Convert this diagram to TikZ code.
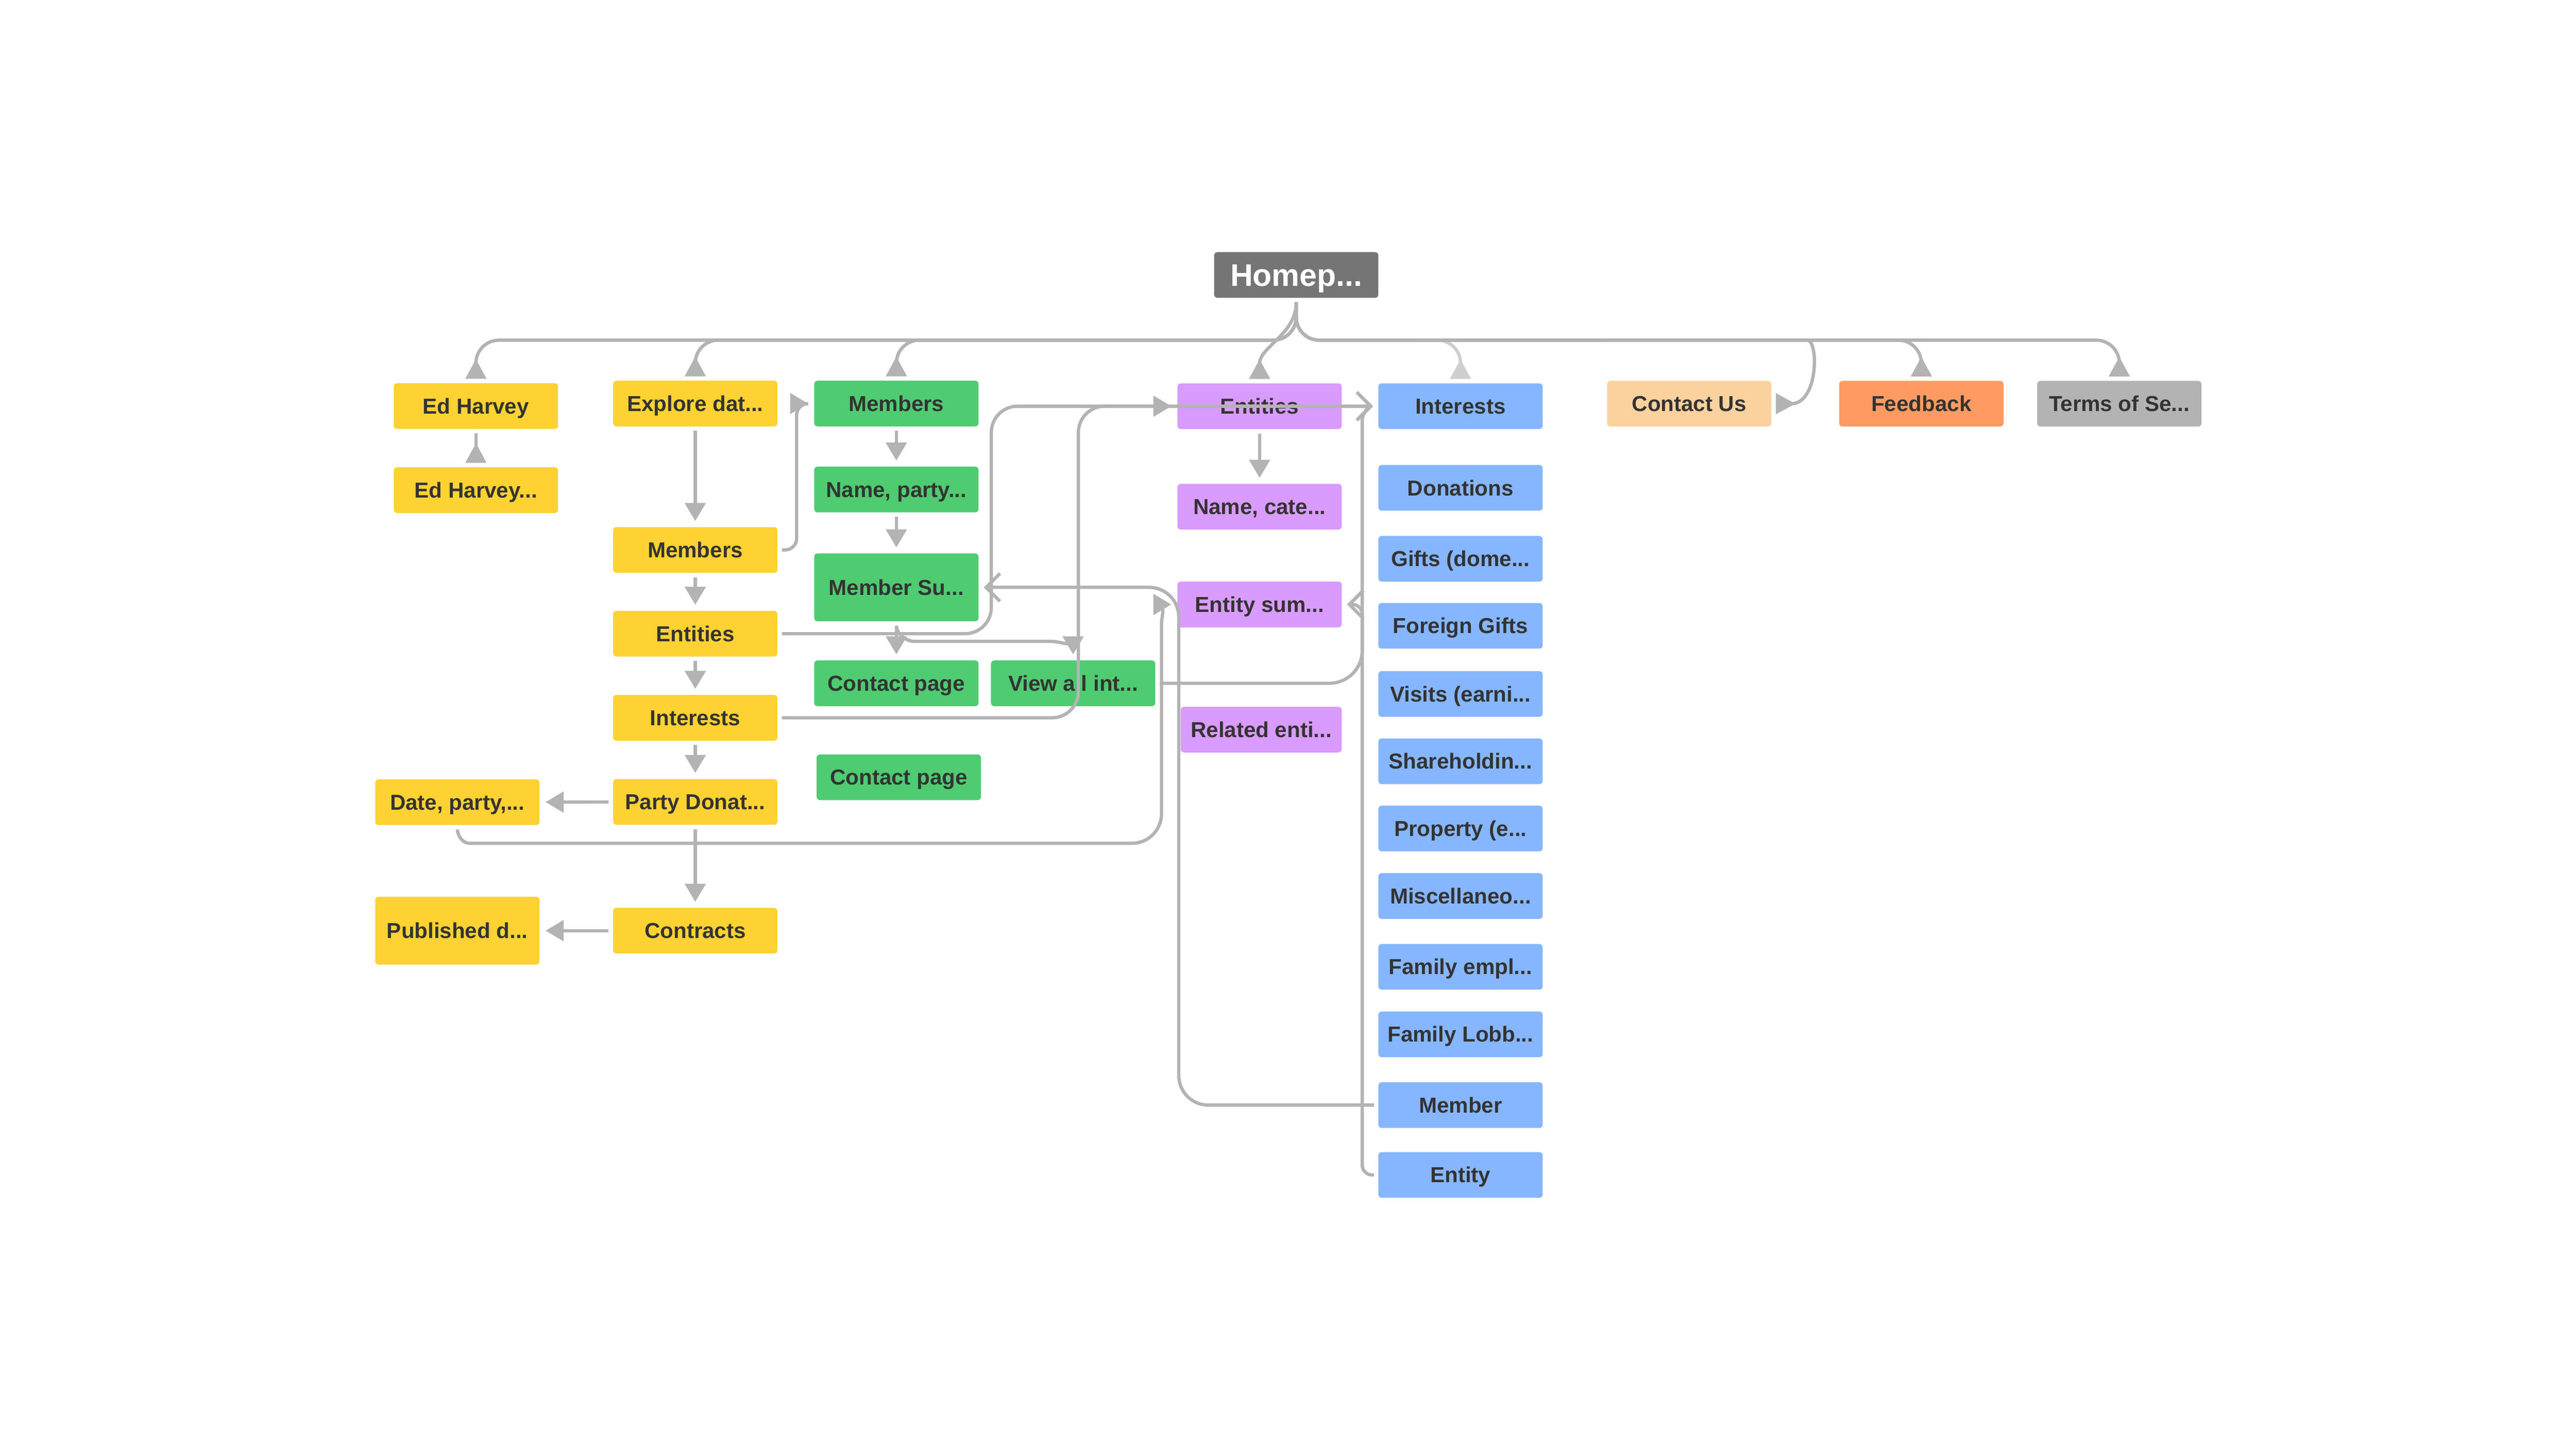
\documentclass[tikz,border=0pt]{standalone}
\usepackage{fontspec}
\setmainfont{Liberation Sans}
\usetikzlibrary{arrows.meta}

\definecolor{linegray}{HTML}{B3B3B3}
\definecolor{lightline}{HTML}{CFCFCF}
\definecolor{labeltext}{HTML}{333333}
\definecolor{homegray}{HTML}{757575}
\definecolor{yellowbox}{HTML}{FDD232}
\definecolor{greenbox}{HTML}{4FCB71}
\definecolor{purplebox}{HTML}{D99BFE}
\definecolor{bluebox}{HTML}{86B6FF}
\definecolor{contactbox}{HTML}{FBD19D}
\definecolor{feedbackbox}{HTML}{FF9B62}
\definecolor{termsbox}{HTML}{B3B3B3}

\newcommand{\elide}{...}

\tikzset{
  box/.style={rectangle, rounded corners=2pt, minimum width=100pt, minimum height=27.8pt,
    inner sep=0pt, text height=9.4pt, text depth=0pt, text=labeltext,
    font=\fontsize{13.2}{15}\selectfont\bfseries},
  tall/.style={minimum height=41.3pt},
  link/.style={draw=linegray, line width=2pt, shorten <=2.5pt},
  tri/.style={-{Triangle[length=11pt,width=12.5pt]}, shorten >=3.5pt},
  rtri/.style={-{Triangle[reversed,length=12pt,width=12.4pt]}, shorten >=2.5pt},
  barb/.style={-{Straight Barb[length=8.5pt,width=17pt]}, shorten >=3pt}
}

\begin{document}
\begin{tikzpicture}[x=1pt, y=-1pt]
    \fill[white] (0,0) rectangle (1568,882);

    \node[box, fill=homegray, text=white, text height=13.6pt,
        font=\fontsize{19}{22}\selectfont\bfseries] (home) at (789,167.4) {Homep\elide};

    % top row
    \node[box, fill=yellowbox] (edh) at (289.7,247.2) {Ed Harvey};
    \node[box, fill=yellowbox] (edhx) at (289.7,298.4) {Ed Harvey\elide};
    \node[box, fill=contactbox] (contact) at (1028.2,245.8) {Contact Us};
    \node[box, fill=feedbackbox] (feedback) at (1169.5,245.8) {Feedback};
    \node[box, fill=termsbox] (terms) at (1290,245.8) {Terms of Se\elide};

    % yellow column
    \foreach \nm/\y/\txt in {explore/245.7/Explore dat\elide, ymem/334.8/Members, yent/385.8/Entities,
        yint/437/Interests, ydon/488.2/Party Donat\elide, ycon/566.6/Contracts}
    \node[box, fill=yellowbox] (\nm) at (423.2,\y) {\txt};
    \node[box, fill=yellowbox] (ydate) at (278.4,488.4) {Date, party,\elide};
    \node[box, fill=yellowbox, tall] (ypub) at (278.4,566.6) {Published d\elide};

    % green column
    \foreach \nm/\y/\txt in {gmem/245.7/Members, gname/298/{Name, party\elide}, gcon/416/Contact page}
    \node[box, fill=greenbox] (\nm) at (545.6,\y) {\txt};
    \node[box, fill=greenbox, tall] (gsum) at (545.6,357.6) {Member Su\elide};
    \node[box, fill=greenbox] (gview) at (653.2,416) {View all int\elide};
    \node[box, fill=greenbox] (gcon2) at (547.1,473.2) {Contact page};

    % purple column
    \foreach \nm/\y/\txt in {pent/247.3/Entities, pname/308.5/{Name, cate\elide}, psum/368/Entity sum\elide}
    \node[box, fill=purplebox] (\nm) at (766.7,\y) {\txt};
    \node[box, fill=purplebox, minimum width=98pt] (prel) at (767.7,444.2) {Related enti\elide};

    % blue column
    \foreach \nm/\y/\txt in {bint/247.3/Interests, bdon/297/Donations, bgift/340.2/Gifts (dome\elide,
        bfor/381/Foreign Gifts, bvis/422.5/Visits (earni\elide, bshare/463.5/Shareholdin\elide,
        bprop/504.4/Property (e\elide, bmisc/545.5/Miscellaneo\elide, bfam/588.6/Family empl\elide,
        blob/629.7/Family Lobb\elide, bmember/672.8/Member, bentity/715.3/Entity}
    \node[box, fill=bluebox] (\nm) at (889,\y) {\txt};

    % homepage fan
    \draw[link, rtri, draw=lightline, rounded corners=14pt] (home.south) -- ++(0,25.6) -| (bint.north);
    \foreach \t in {edh, explore, gmem, feedback, terms}
    \draw[link, rtri, rounded corners=14pt] (home.south) -- ++(0,25.6) -| (\t.north);
    \draw[link, rtri] (home.south) to[out=-90, in=90] (pent.north);
    \draw[link, rtri, rounded corners=14pt] (home.south) -- ++(0,25.6) -- (1086,207)
        .. controls (1107,207) and (1107,245.8) .. (contact.east);

    % straight steps
    \foreach \a/\b in {explore/ymem, ymem/yent, yent/yint, yint/ydon, ydon/ycon, ydon/ydate,
        ycon/ypub, gmem/gname, gname/gsum, gsum/gcon, pent/pname}
    \draw[link, tri] (\a) -- (\b);
    \draw[link, rtri] (edh) -- (edhx);

    % cross links
    \draw[link, tri, rounded corners=7pt] (ymem.east) -- ++(11.5,0) |- (gmem.west);
    \draw[link, tri, rounded corners=16pt] (yent.east) -- ++(130,0) |- (pent.west);
    \draw[link, barb, rounded corners=16pt] (yint.east) -- ++(183,0) |- (bint.west);
    \draw[link, tri] (gsum.south) to[out=-90, in=180] (557,390.5) -- (640,390.5)
        to[out=0, in=90] (gview.north);
    \draw[link, barb] (gview.east) -- (809,416) to[out=0, in=-90] (829.2,396) -- (829.2,256)
        to[out=90, in=180] (bint.west);
    \draw[link, barb, rounded corners=18pt] (bmember.west) -- (717.5,672.8) |- (gsum.east);
    \draw[link, barb, rounded corners=6pt] (bentity.west) -- (829.2,715.3) |- (psum.east);
    \draw[link, tri] (ydate.south) to[out=-90, in=180] (286,513.4) -- (689,513.4)
        to[out=0, in=-90] (707,495.4) -- (707,380) to[out=90, in=180] (psum.west);
\end{tikzpicture}
\end{document}
